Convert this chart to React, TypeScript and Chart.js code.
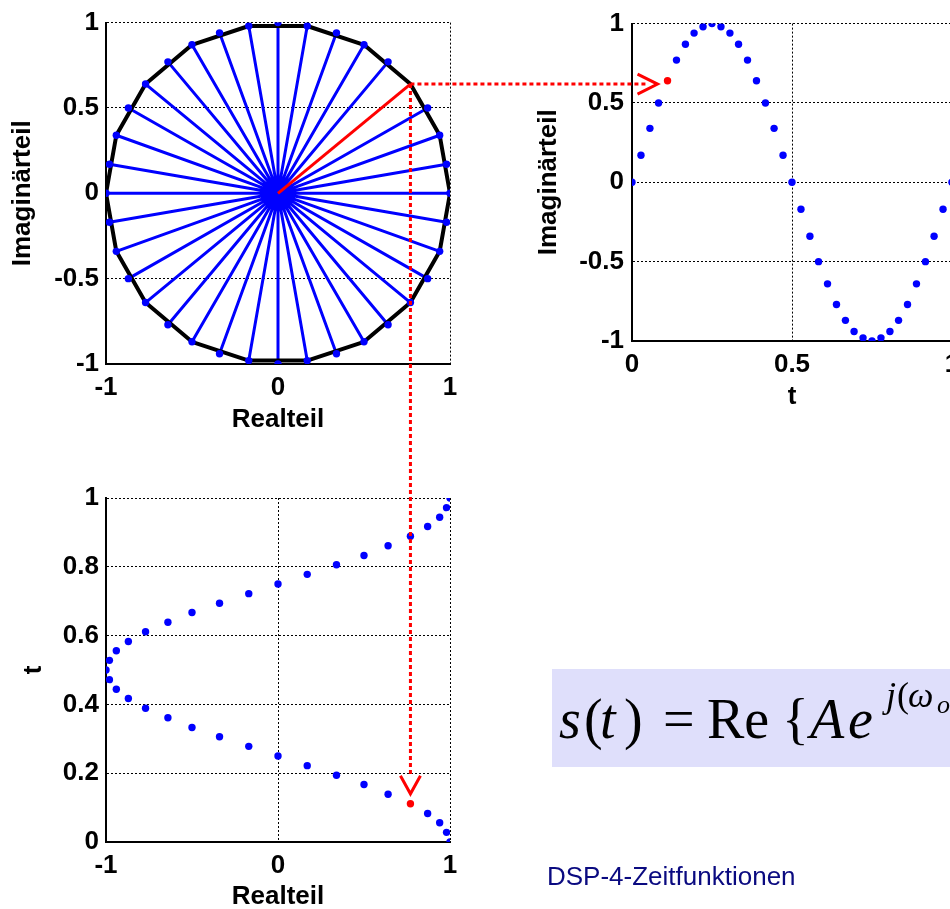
import React, { useEffect, useRef } from 'react';
import { Chart, registerables } from 'chart.js';

Chart.register(...registerables);

// ---- data (one sample every 1/36 of a period) ----
const tValues = [0, 0.028, 0.056, 0.083, 0.111, 0.139, 0.167, 0.194, 0.222, 0.25, 0.278, 0.306, 0.333, 0.361, 0.389, 0.417, 0.444, 0.472, 0.5, 0.528, 0.556, 0.583, 0.611, 0.639, 0.667, 0.694, 0.722, 0.75, 0.778, 0.806, 0.833, 0.861, 0.889, 0.917, 0.944, 0.972, 1];
const realPart = [1, 0.98, 0.94, 0.87, 0.77, 0.64, 0.5, 0.34, 0.17, 0, -0.17, -0.34, -0.5, -0.64, -0.77, -0.87, -0.94, -0.98, -1, -0.98, -0.94, -0.87, -0.77, -0.64, -0.5, -0.34, -0.17, 0, 0.17, 0.34, 0.5, 0.64, 0.77, 0.87, 0.94, 0.98, 1];
const imagPart = [0, 0.17, 0.34, 0.5, 0.64, 0.77, 0.87, 0.94, 0.98, 1, 0.98, 0.94, 0.87, 0.77, 0.64, 0.5, 0.34, 0.17, 0, -0.17, -0.34, -0.5, -0.64, -0.77, -0.87, -0.94, -0.98, -1, -0.98, -0.94, -0.87, -0.77, -0.64, -0.5, -0.34, -0.17, 0];
const highlightIndex = 4; // the red sample
const outlineStep = 2; // black outline joins every 2nd sample

// ---- tick labels ----
const realTicks = [-1, 0, 1];
const imagTicks = [-1, -0.5, 0, 0.5, 1];
const timeTicksTop = [0, 0.5, 1];
const timeTicksBottom = [0, 0.2, 0.4, 0.6, 0.8, 1];

const labelReal = 'Realteil';
const labelImag = 'Imaginärteil';
const labelTime = 't';

// ---- layout ----
const CW = 1000;
const CH = 930;
const FONT = "'Liberation Sans', Arial, Helvetica, sans-serif";
const BLUE = '#0000ff';
const RED = '#ff0000';

const areaA = { left: 106, top: 19, right: 450, bottom: 364 };
const areaB = { left: 632, top: 19, right: 952, bottom: 341 };
const areaC = { left: 106, top: 498, right: 450, bottom: 842 };

const tickFont = { family: FONT, size: 26, weight: 'bold' as const };

function axis(min: number, max: number, ticks: number[], title: string, titlePad: any, tickPad: number, fit: (s: any) => void) {
  return {
    type: 'linear' as const,
    min,
    max,
    afterBuildTicks: (s: any) => {
      s.ticks = ticks.map((v) => ({ value: v }));
    },
    afterFit: fit,
    grid: { color: '#000', lineWidth: 1, drawTicks: false },
    border: { display: true, color: '#000', width: 2, dash: [2, 2] },
    ticks: {
      color: '#000',
      padding: tickPad,
      font: tickFont,
      autoSkip: false,
      maxRotation: 0,
      callback: (v: any) => String(Math.round(Number(v) * 100) / 100),
    },
    title: { display: true, text: title, color: '#000', padding: titlePad, font: tickFont },
  };
}

function options(area: any, yW: number, xH: number, xAxis: any, yAxis: any) {
  return {
    responsive: false,
    maintainAspectRatio: false,
    animation: false as const,
    events: [],
    layout: {
      padding: { left: area.left - yW, top: area.top, right: CW - area.right, bottom: CH - area.bottom - xH },
    },
    plugins: { legend: { display: false }, tooltip: { enabled: false } },
    scales: { x: xAxis, y: yAxis },
  };
}

const dotStyle = (color: string) => ({
  showLine: false,
  pointRadius: 3.7,
  pointBackgroundColor: color,
  pointBorderWidth: 0,
  backgroundColor: color,
  borderColor: color,
});

export default function App() {
  const refA = useRef<HTMLCanvasElement>(null);
  const refB = useRef<HTMLCanvasElement>(null);
  const refC = useRef<HTMLCanvasElement>(null);

  useEffect(() => {
    const idx = realPart.map((_, i) => i);
    const h = highlightIndex;

    // ---- top right: Imaginärteil over t ----
    const chartB = new Chart(refB.current!, {
      type: 'scatter',
      data: {
        datasets: [
          { data: [{ x: tValues[h], y: imagPart[h] }], ...dotStyle(RED) },
          { data: idx.filter((i) => i !== h).map((i) => ({ x: tValues[i], y: imagPart[i] })), ...dotStyle(BLUE) },
        ],
      },
      options: options(
        areaB, 100, 71,
        axis(0, 1, timeTicksTop, labelTime, { top: 0, bottom: 0 }, 8, (s: any) => { s.height = 71; }),
        axis(-1, 1, imagTicks, labelImag, { top: 1, bottom: 0 }, 8, (s: any) => { s.width = 100; }),
      ) as any,
    });

    // ---- bottom left: t over Realteil ----
    const chartC = new Chart(refC.current!, {
      type: 'scatter',
      data: {
        datasets: [
          { data: [{ x: realPart[h], y: tValues[h] }], ...dotStyle(RED) },
          { data: idx.filter((i) => i !== h).map((i) => ({ x: realPart[i], y: tValues[i] })), ...dotStyle(BLUE) },
        ],
      },
      options: options(
        areaC, 106, 70,
        axis(-1, 1, realTicks, labelReal, { top: 0, bottom: 0 }, 8, (s: any) => { s.height = 70; }),
        axis(0, 1, timeTicksBottom, labelTime, { top: 18, bottom: 0 }, 7, (s: any) => { s.width = 106; }),
      ) as any,
    });

    // ---- top left: complex plane ----
    const spokeData: any[] = [];
    idx.slice(0, idx.length - 1).filter((i) => i !== h).forEach((i) => {
      spokeData.push({ x: 0, y: 0 }, { x: realPart[i], y: imagPart[i] }, { x: null, y: null });
    });
    const outline = idx.filter((i) => i % outlineStep === 0).map((i) => ({ x: realPart[i], y: imagPart[i] }));

    const arrowPlugin = {
      id: 'linkArrows',
      afterDraw(chart: any) {
        const ctx = chart.ctx as CanvasRenderingContext2D;
        const sx = chart.scales.x.getPixelForValue(realPart[h]);
        const sy = chart.scales.y.getPixelForValue(imagPart[h]);
        const gap = 10;
        const hx = chartB.scales.x.getPixelForValue(tValues[h]) - gap;
        const vy = chartC.scales.y.getPixelForValue(tValues[h]) - gap;
        ctx.save();
        ctx.strokeStyle = RED;
        ctx.lineWidth = 3;
        ctx.setLineDash([4, 3]);
        ctx.beginPath();
        ctx.moveTo(sx, sy);
        ctx.lineTo(hx - 10, sy);
        ctx.moveTo(sx, sy);
        ctx.lineTo(sx, vy - 18);
        ctx.stroke();
        ctx.setLineDash([]);
        ctx.beginPath();
        ctx.moveTo(hx - 20, sy - 10);
        ctx.lineTo(hx, sy);
        ctx.lineTo(hx - 20, sy + 10);
        ctx.moveTo(sx - 10, vy - 18);
        ctx.lineTo(sx, vy);
        ctx.lineTo(sx + 10, vy - 18);
        ctx.stroke();
        ctx.restore();
      },
    };

    const chartA = new Chart(refA.current!, {
      type: 'scatter',
      data: {
        datasets: [
          { data: idx.slice(0, idx.length - 1).filter((i) => i !== h).map((i) => ({ x: realPart[i], y: imagPart[i] })), ...dotStyle(BLUE) },
          { data: [{ x: 0, y: 0 }, { x: realPart[h], y: imagPart[h] }], showLine: true, pointRadius: 0, borderColor: RED, borderWidth: 3 },
          { data: outline, showLine: true, pointRadius: 0, borderColor: '#000', borderWidth: 4, borderJoinStyle: 'round' },
          { data: spokeData, showLine: true, spanGaps: false, pointRadius: 0, borderColor: BLUE, borderWidth: 3 },
        ],
      },
      options: options(
        areaA, 106, 71,
        axis(-1, 1, realTicks, labelReal, { top: 0, bottom: 0 }, 8, (s: any) => { s.height = 71; }),
        axis(-1, 1, imagTicks, labelImag, { top: 7, bottom: 0 }, 7, (s: any) => { s.width = 106; }),
      ) as any,
      plugins: [arrowPlugin],
    });

    return () => {
      chartA.destroy();
      chartB.destroy();
      chartC.destroy();
    };
  }, []);

  const canvasStyle: React.CSSProperties = { position: 'absolute', left: 0, top: 0 };
  const serif = "'Liberation Serif', 'Times New Roman', serif";

  return (
    <div style={{ position: 'absolute', left: 0, top: 0, width: 950, height: 909, overflow: 'hidden', background: '#fff' }}>
      <canvas ref={refB} width={CW} height={CH} style={canvasStyle} />
      <canvas ref={refC} width={CW} height={CH} style={canvasStyle} />
      <canvas ref={refA} width={CW} height={CH} style={canvasStyle} />
      <svg width={950} height={909} style={{ position: 'absolute', left: 0, top: 0, pointerEvents: 'none' }}>
        <rect x={552} y={669} width={420} height={98} fill="#dfdffb" />
        <g fontFamily={serif} fill="#000">
          <text x={559} y={738} fontSize={56} fontStyle="italic">s</text>
          <text x={584} y={738} fontSize={56}>(</text>
          <text x={600} y={738} fontSize={56} fontStyle="italic">t</text>
          <text x={624} y={738} fontSize={56}>)</text>
          <text x={663} y={738} fontSize={56}>=</text>
          <text x={707} y={738} fontSize={56}>Re</text>
          <text x={782} y={738} fontSize={56}>{'{'}</text>
          <text x={810} y={738} fontSize={56} fontStyle="italic">A</text>
          <text x={848} y={738} fontSize={56} fontStyle="italic">e</text>
          <text x={886} y={707} fontSize={36} fontStyle="italic">j</text>
          <text x={897} y={707} fontSize={36}>(</text>
          <text x={908} y={707} fontSize={36} fontStyle="italic">ω</text>
          <text x={937} y={713} fontSize={26} fontStyle="italic">o</text>
        </g>
        <text x={547} y={885} fontFamily={FONT} fontSize={26} fill="#0a0a80">DSP-4-Zeitfunktionen</text>
      </svg>
    </div>
  );
}
